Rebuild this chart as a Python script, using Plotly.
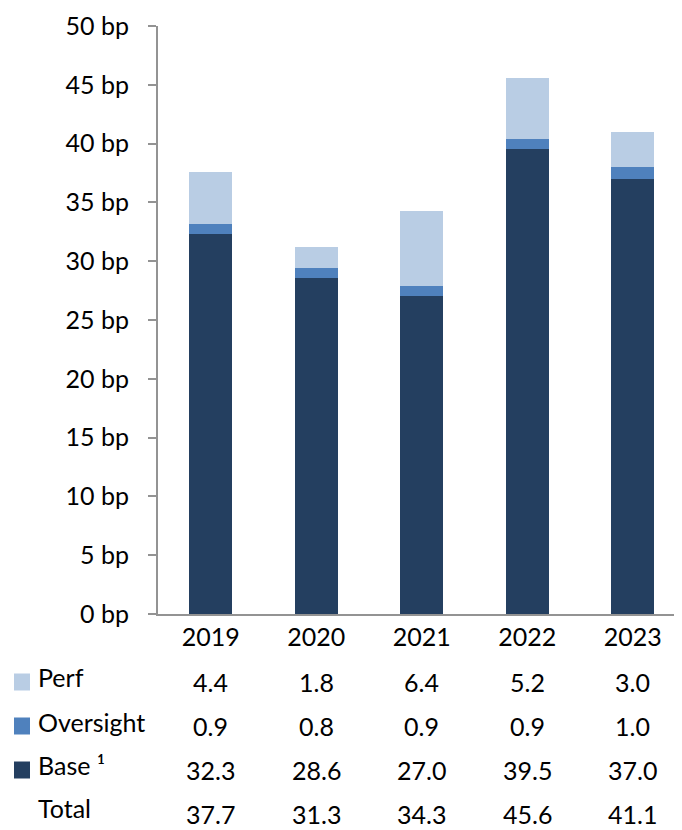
import plotly.graph_objects as go

years = ["2019", "2020", "2021", "2022", "2023"]
base = [32.3, 28.6, 27.0, 39.5, 37.0]
oversight = [0.9, 0.8, 0.9, 0.9, 1.0]
perf = [4.4, 1.8, 6.4, 5.2, 3.0]
total = [37.7, 31.3, 34.3, 45.6, 41.1]

row_names = ["Perf", "Oversight", "Base ¹", "Total"]
row_values = [perf, oversight, base, total]
row_colors = ["#b9cde4", "#4f81bd", "#243f60", None]

FONT = "Lato, Calibri, sans-serif"
# the page body adds 8px around the figure, so size is trimmed by that
OFF = 8
W, H = 682 - OFF, 830 - OFF
M_L, M_R, M_T, M_B = 158 - OFF, 0, 26 - OFF, 216
plot_h = H - M_T - M_B
plot_w = W - M_L - M_R


def py(pix):
    # page pixel row -> paper y
    return (H - M_B - (pix - OFF)) / plot_h


def px(pix):
    return ((pix - OFF) - M_L) / plot_w


fig = go.Figure()
for name, vals, col in [("Base", base, "#243f60"),
                        ("Oversight", oversight, "#4f81bd"),
                        ("Perf", perf, "#b9cde4")]:
    fig.add_trace(go.Bar(x=years, y=vals, name=name, marker_color=col,
                         marker_line_width=0, hoverinfo="skip"))

# table below the chart
value_rows = [682, 726, 770, 814]
label_rows = [677, 722, 765, 808]
for i, name in enumerate(row_names):
    fig.add_annotation(text=name, xref="paper", yref="paper",
                       x=px(36), y=py(label_rows[i]), xanchor="left",
                       yanchor="middle", showarrow=False,
                       font=dict(family=FONT, size=25, color="black"))
    if row_colors[i]:
        fig.add_shape(type="rect", xref="paper", yref="paper",
                      x0=px(14), x1=px(30),
                      y0=py(value_rows[i] - 8.5), y1=py(value_rows[i] + 8.5),
                      fillcolor=row_colors[i], line_width=0)
    # category index keeps numeric-looking year strings on the category axis
    for j, v in enumerate(row_values[i]):
        fig.add_annotation(text=f"{v:.1f}", xref="x", yref="paper",
                           x=j, y=py(value_rows[i]), xanchor="center",
                           yanchor="middle", showarrow=False,
                           font=dict(family=FONT, size=25, color="black"))

fig.update_layout(
    barmode="stack",
    bargap=0.592,
    width=W, height=H,
    margin=dict(l=M_L, r=M_R, t=M_T, b=M_B),
    plot_bgcolor="white", paper_bgcolor="white",
    showlegend=False,
    font=dict(family=FONT, size=25, color="black"),
)
fig.update_yaxes(range=[0, 50], dtick=5, ticksuffix=" bp", showgrid=False,
                 zeroline=False, showline=True, linecolor="#939393",
                 linewidth=2, ticks="outside", ticklen=8, tickwidth=2,
                 tickcolor="#939393", ticklabelstandoff=14)
fig.update_xaxes(type="category", range=[-0.5, 4.467], showgrid=False,
                 showline=True, linecolor="#939393", linewidth=2, ticks="")

fig.write_html("out.html")
